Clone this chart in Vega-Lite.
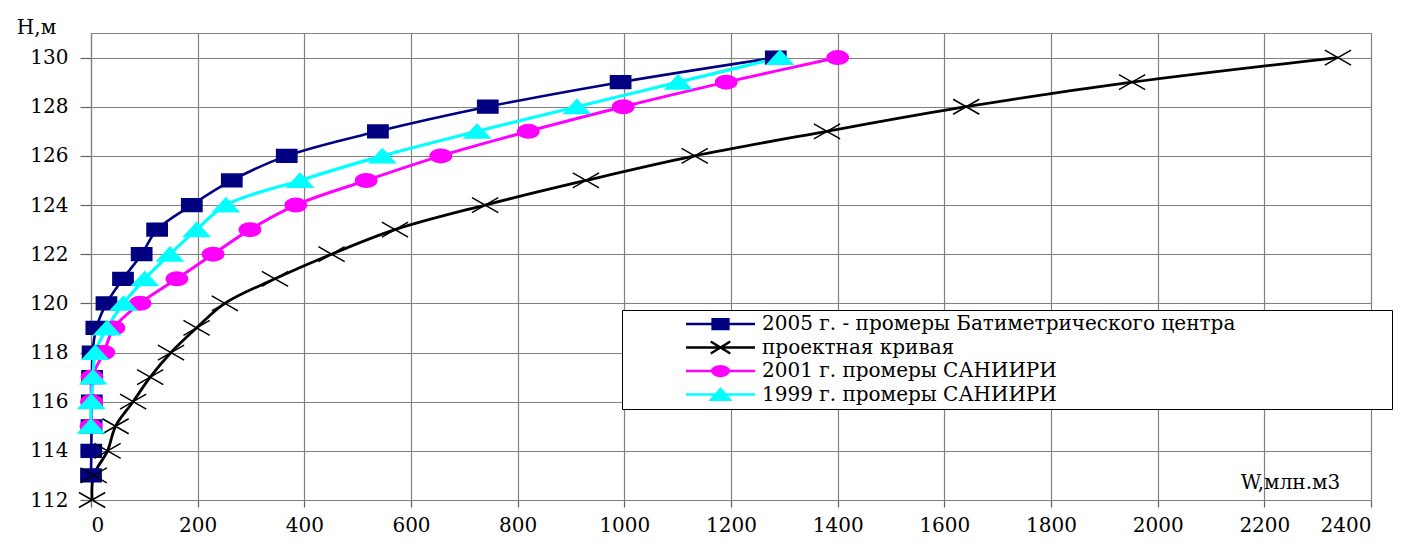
{
  "$schema": "https://vega.github.io/schema/vega-lite/v6.json",
  "width": 1280,
  "height": 467,
  "autosize": {"type": "none"},
  "padding": {"left": 91, "top": 33, "right": 32, "bottom": 49},
  "background": "white",
  "data": {"values": [
    {"s": "2005 г. - промеры Батиметрического центра", "H": 113, "W": 0},
    {"s": "2005 г. - промеры Батиметрического центра", "H": 114, "W": 0.5},
    {"s": "2005 г. - промеры Батиметрического центра", "H": 115, "W": 1},
    {"s": "2005 г. - промеры Батиметрического центра", "H": 116, "W": 1.5},
    {"s": "2005 г. - промеры Батиметрического центра", "H": 117, "W": 2},
    {"s": "2005 г. - промеры Батиметрического центра", "H": 118, "W": 3},
    {"s": "2005 г. - промеры Батиметрического центра", "H": 119, "W": 10},
    {"s": "2005 г. - промеры Батиметрического центра", "H": 120, "W": 29},
    {"s": "2005 г. - промеры Батиметрического центра", "H": 121, "W": 60},
    {"s": "2005 г. - промеры Батиметрического центра", "H": 122, "W": 95},
    {"s": "2005 г. - промеры Батиметрического центра", "H": 123, "W": 124},
    {"s": "2005 г. - промеры Батиметрического центра", "H": 124, "W": 189},
    {"s": "2005 г. - промеры Батиметрического центра", "H": 125, "W": 264},
    {"s": "2005 г. - промеры Батиметрического центра", "H": 126, "W": 367},
    {"s": "2005 г. - промеры Батиметрического центра", "H": 127, "W": 538},
    {"s": "2005 г. - промеры Батиметрического центра", "H": 128, "W": 744},
    {"s": "2005 г. - промеры Батиметрического центра", "H": 129, "W": 993},
    {"s": "2005 г. - промеры Батиметрического центра", "H": 130, "W": 1284},
    {"s": "проектная кривая", "H": 112, "W": 2},
    {"s": "проектная кривая", "H": 113, "W": 5},
    {"s": "проектная кривая", "H": 114, "W": 31},
    {"s": "проектная кривая", "H": 115, "W": 46},
    {"s": "проектная кривая", "H": 116, "W": 79},
    {"s": "проектная кривая", "H": 117, "W": 111},
    {"s": "проектная кривая", "H": 118, "W": 150},
    {"s": "проектная кривая", "H": 119, "W": 198},
    {"s": "проектная кривая", "H": 120, "W": 251},
    {"s": "проектная кривая", "H": 121, "W": 345},
    {"s": "проектная кривая", "H": 122, "W": 451},
    {"s": "проектная кривая", "H": 123, "W": 570},
    {"s": "проектная кривая", "H": 124, "W": 739},
    {"s": "проектная кривая", "H": 125, "W": 928},
    {"s": "проектная кривая", "H": 126, "W": 1132},
    {"s": "проектная кривая", "H": 127, "W": 1380},
    {"s": "проектная кривая", "H": 128, "W": 1641},
    {"s": "проектная кривая", "H": 129, "W": 1952},
    {"s": "проектная кривая", "H": 130, "W": 2338},
    {"s": "2001 г. промеры САНИИРИ", "H": 115, "W": 0},
    {"s": "2001 г. промеры САНИИРИ", "H": 116, "W": 1},
    {"s": "2001 г. промеры САНИИРИ", "H": 117, "W": 2},
    {"s": "2001 г. промеры САНИИРИ", "H": 118, "W": 24},
    {"s": "2001 г. промеры САНИИРИ", "H": 119, "W": 43},
    {"s": "2001 г. промеры САНИИРИ", "H": 120, "W": 92},
    {"s": "2001 г. промеры САНИИРИ", "H": 121, "W": 161},
    {"s": "2001 г. промеры САНИИРИ", "H": 122, "W": 229},
    {"s": "2001 г. промеры САНИИРИ", "H": 123, "W": 298},
    {"s": "2001 г. промеры САНИИРИ", "H": 124, "W": 384},
    {"s": "2001 г. промеры САНИИРИ", "H": 125, "W": 516},
    {"s": "2001 г. промеры САНИИРИ", "H": 126, "W": 656},
    {"s": "2001 г. промеры САНИИРИ", "H": 127, "W": 820},
    {"s": "2001 г. промеры САНИИРИ", "H": 128, "W": 998},
    {"s": "2001 г. промеры САНИИРИ", "H": 129, "W": 1191},
    {"s": "2001 г. промеры САНИИРИ", "H": 130, "W": 1400},
    {"s": "1999 г. промеры САНИИРИ", "H": 115, "W": 0},
    {"s": "1999 г. промеры САНИИРИ", "H": 116, "W": 0.5},
    {"s": "1999 г. промеры САНИИРИ", "H": 117, "W": 4},
    {"s": "1999 г. промеры САНИИРИ", "H": 118, "W": 8},
    {"s": "1999 г. промеры САНИИРИ", "H": 119, "W": 30},
    {"s": "1999 г. промеры САНИИРИ", "H": 120, "W": 61},
    {"s": "1999 г. промеры САНИИРИ", "H": 121, "W": 101},
    {"s": "1999 г. промеры САНИИРИ", "H": 122, "W": 148},
    {"s": "1999 г. промеры САНИИРИ", "H": 123, "W": 198},
    {"s": "1999 г. промеры САНИИРИ", "H": 124, "W": 253},
    {"s": "1999 г. промеры САНИИРИ", "H": 125, "W": 392},
    {"s": "1999 г. промеры САНИИРИ", "H": 126, "W": 546},
    {"s": "1999 г. промеры САНИИРИ", "H": 127, "W": 724},
    {"s": "1999 г. промеры САНИИРИ", "H": 128, "W": 911},
    {"s": "1999 г. промеры САНИИРИ", "H": 129, "W": 1101},
    {"s": "1999 г. промеры САНИИРИ", "H": 130, "W": 1292}
  ]},
  "encoding": {
    "x": {
      "field": "W", "type": "quantitative",
      "scale": {"domain": [0, 2400], "nice": false, "zero": false},
      "axis": {
        "values": [0, 200, 400, 600, 800, 1000, 1200, 1400, 1600, 1800, 2000, 2200, 2400],
        "format": "d",
        "title": "W,млн.м3",
        "titleX": 1199, "titleY": -18, "titleAlign": "center", "titleBaseline": "middle",
        "tickSize": 7, "labelPadding": 8
      }
    },
    "y": {
      "field": "H", "type": "quantitative",
      "scale": {"domain": [112, 131], "nice": false, "zero": false},
      "axis": {
        "values": [112, 114, 116, 118, 120, 122, 124, 126, 128, 130],
        "format": "d",
        "title": "Н,м",
        "titleAngle": 0, "titleX": -55, "titleY": -6, "titleAlign": "center", "titleBaseline": "middle",
        "tickSize": 11, "labelPadding": 12
      }
    }
  },
  "layer": [
    {
      "mark": {"type": "line", "interpolate": "catmull-rom"},
      "encoding": {
        "order": {"field": "H", "type": "quantitative"},
        "color": {
          "field": "s", "type": "nominal", "legend": null,
          "scale": {
            "domain": ["2005 г. - промеры Батиметрического центра", "проектная кривая", "2001 г. промеры САНИИРИ", "1999 г. промеры САНИИРИ"],
            "range": ["#000080", "#000000", "#ff00ff", "#00ffff"]
          }
        },
        "strokeWidth": {
          "field": "s", "type": "nominal", "legend": null,
          "scale": {
            "domain": ["2005 г. - промеры Батиметрического центра", "проектная кривая", "2001 г. промеры САНИИРИ", "1999 г. промеры САНИИРИ"],
            "range": [2.6, 3.2, 2.6, 2.6]
          }
        }
      }
    },
    {
      "mark": {"type": "point", "filled": true, "size": 225, "strokeWidth": 1.5, "opacity": 1},
      "encoding": {
        "fill": {
          "field": "s", "type": "nominal", "legend": null,
          "scale": {
            "domain": ["2005 г. - промеры Батиметрического центра", "проектная кривая", "2001 г. промеры САНИИРИ", "1999 г. промеры САНИИРИ"],
            "range": ["#000080", "#000000", "#ff00ff", "#00ffff"]
          }
        },
        "stroke": {
          "field": "s", "type": "nominal", "legend": null,
          "scale": {
            "domain": ["2005 г. - промеры Батиметрического центра", "проектная кривая", "2001 г. промеры САНИИРИ", "1999 г. промеры САНИИРИ"],
            "range": ["#000080", "#000000", "#ff00ff", "#00ffff"]
          }
        },
        "shape": {
          "field": "s", "type": "nominal", "legend": null,
          "scale": {
            "domain": ["2005 г. - промеры Батиметрического центра", "проектная кривая", "2001 г. промеры САНИИРИ", "1999 г. промеры САНИИРИ"],
            "range": [
              "M-1.35,-0.85H1.35V0.85H-1.35Z",
              "M-1.75,-1L1.75,1M-1.75,1L1.75,-1",
              "M-1.42,0A1.42,0.9,0,1,0,1.42,0A1.42,0.9,0,1,0,-1.42,0Z",
              "M0,-0.95L1.7,0.9H-1.7Z"
            ]
          }
        }
      }
    },
    {
      "mark": {"type": "point", "filled": true, "size": 225, "strokeWidth": 2.5, "opacity": 0},
      "encoding": {
        "fill": {
          "field": "s", "type": "nominal",
          "legend": {"title": null, "orient": "none", "legendX": 531, "legendY": 277, "symbolOffset": 84.5, "labelOffset": 31.5, "labelLimit": 2000, "encode": {"symbols": {"update": {"fillOpacity": {"value": 1}, "strokeOpacity": {"value": 1}, "opacity": {"value": 1}}}, "labels": {"update": {"text": {"signal": "datum.label + '\u00a0\u00a0\u00a0\u00a0\u00a0\u00a0\u00a0\u00a0\u00a0\u00a0\u00a0\u00a0\u00a0\u00a0\u00a0\u00a0\u00a0\u00a0\u00a0\u00a0\u00a0\u00a0\u00a0\u00a0\u200b'"}}}}},
          "scale": {
            "domain": ["2005 г. - промеры Батиметрического центра", "проектная кривая", "2001 г. промеры САНИИРИ", "1999 г. промеры САНИИРИ"],
            "range": ["#000080", "#000000", "#ff00ff", "#00ffff"]
          }
        },
        "stroke": {
          "field": "s", "type": "nominal",
          "legend": {"title": null, "orient": "none", "legendX": 531, "legendY": 277, "symbolOffset": 84.5, "labelOffset": 31.5, "labelLimit": 2000, "encode": {"symbols": {"update": {"fillOpacity": {"value": 1}, "strokeOpacity": {"value": 1}, "opacity": {"value": 1}}}, "labels": {"update": {"text": {"signal": "datum.label + '\u00a0\u00a0\u00a0\u00a0\u00a0\u00a0\u00a0\u00a0\u00a0\u00a0\u00a0\u00a0\u00a0\u00a0\u00a0\u00a0\u00a0\u00a0\u00a0\u00a0\u00a0\u00a0\u00a0\u00a0\u200b'"}}}}},
          "scale": {
            "domain": ["2005 г. - промеры Батиметрического центра", "проектная кривая", "2001 г. промеры САНИИРИ", "1999 г. промеры САНИИРИ"],
            "range": ["#000080", "#000000", "#ff00ff", "#00ffff"]
          }
        },
        "shape": {
          "field": "s", "type": "nominal",
          "legend": {"title": null, "orient": "none", "legendX": 531, "legendY": 277, "symbolOffset": 84.5, "labelOffset": 31.5, "labelLimit": 2000, "encode": {"symbols": {"update": {"fillOpacity": {"value": 1}, "strokeOpacity": {"value": 1}, "opacity": {"value": 1}}}, "labels": {"update": {"text": {"signal": "datum.label + '\u00a0\u00a0\u00a0\u00a0\u00a0\u00a0\u00a0\u00a0\u00a0\u00a0\u00a0\u00a0\u00a0\u00a0\u00a0\u00a0\u00a0\u00a0\u00a0\u00a0\u00a0\u00a0\u00a0\u00a0\u200b'"}}}}},
          "scale": {
            "domain": ["2005 г. - промеры Батиметрического центра", "проектная кривая", "2001 г. промеры САНИИРИ", "1999 г. промеры САНИИРИ"],
            "range": [
              "M-4.6,0H4.6M-1.05,-0.65H1.05V0.65H-1.05Z",
              "M-4.6,0H4.6M-1.3,-0.8L1.3,0.8M-1.3,0.8L1.3,-0.8",
              "M-4.6,0H4.6M-1.1,0A1.1,0.65,0,1,0,1.1,0A1.1,0.65,0,1,0,-1.1,0Z",
              "M-4.6,0H4.6M0,-0.75L1.25,0.7H-1.25Z"
            ]
          }
        }
      }
    }
  ],
  "resolve": {"scale": {"color": "independent", "fill": "independent", "stroke": "independent", "shape": "independent", "strokeWidth": "independent"}},
  "config": {
    "font": "DejaVu Serif",
    "view": {"stroke": "#808080", "strokeWidth": 1},
    "axis": {
      "labelFont": "DejaVu Serif", "labelFontSize": 20, "labelColor": "#000000",
      "titleFont": "DejaVu Serif", "titleFontSize": 20, "titleFontWeight": "normal", "titleColor": "#000000",
      "grid": true, "gridColor": "#808080", "gridWidth": 1.2, "gridOpacity": 1,
      "domainColor": "#808080", "domainWidth": 1.2,
      "tickColor": "#606060", "tickWidth": 1.2
    },
    "legend": {
      "strokeColor": "#000000", "fillColor": "#ffffff", "padding": 4,
      "symbolSize": 225, "symbolStrokeWidth": 2.5,
      "labelFont": "DejaVu Serif", "labelFontSize": 20, "labelColor": "#000000",
      "rowPadding": 2.5
    }
  }
}
